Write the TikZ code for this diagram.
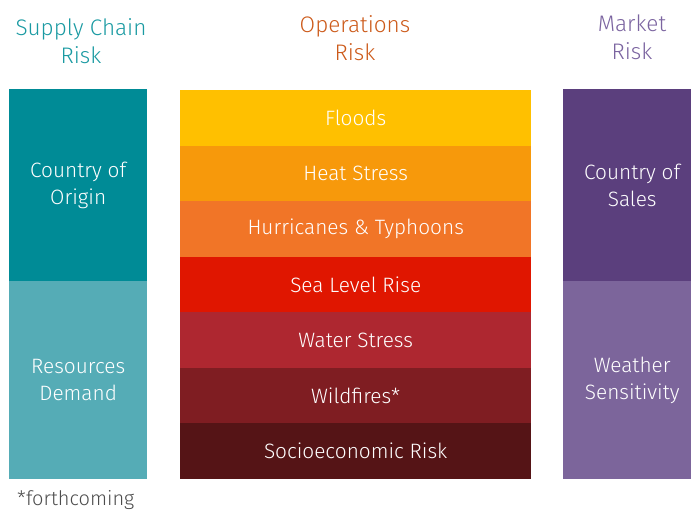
\documentclass[tikz,border=0pt]{standalone}
\usepackage{fontspec}
\setmainfont{Fira Sans}[UprightFont=*-Light]
\usetikzlibrary{positioning}

\definecolor{scdark}{HTML}{008B96}
\definecolor{sclight}{HTML}{55ACB6}
\definecolor{sctitle}{HTML}{1A9AA2}
\definecolor{optitle}{HTML}{CC5A1A}
\definecolor{mktitle}{HTML}{7B64A0}
\definecolor{mkdark}{HTML}{5B3F7D}
\definecolor{mklight}{HTML}{7C659B}
\definecolor{opA}{HTML}{FFC000}
\definecolor{opB}{HTML}{F7990B}
\definecolor{opC}{HTML}{F17527}
\definecolor{opD}{HTML}{E01600}
\definecolor{opE}{HTML}{AE2730}
\definecolor{opF}{HTML}{7F1D22}
\definecolor{opG}{HTML}{551416}

\tikzset{
  header/.style={align=center, font=\fontsize{22.5}{28}\selectfont, inner sep=0pt},
  riskbox/.style={anchor=north west, inner sep=0pt, text=white, align=center,
    font=\fontsize{20.8}{27}\selectfont},
}

\begin{document}
\begin{tikzpicture}[x=1pt,y=-1pt]
\useasboundingbox (0,0) rectangle (691,511);

% headings
\node[header, text=sctitle] (schead) at (81,41) {Supply Chain\\Risk};
\node[header, text=optitle] (ophead) at (355,38) {Operations\\Risk};
\node[header, text=mktitle] (mkhead) at (632,37) {Market\\Risk};

% supply chain column
\node[riskbox, fill=scdark, minimum width=138pt, minimum height=192pt] (origin) at (9,89) {Country of\\Origin};
\node[riskbox, fill=sclight, minimum width=138pt, minimum height=198pt] (demand) at (9,281) {Resources\\Demand};

% operations column
\foreach \lbl [count=\i from 0] in {Floods,Heat Stress,Hurricanes \& Typhoons,Sea Level Rise,Water Stress,Wildfires*,Socioeconomic Risk}{
  \pgfmathsetmacro{\ytop}{90+55.5*\i}
  \ifcase\i \def\rowcol{opA}\or \def\rowcol{opB}\or \def\rowcol{opC}\or
    \def\rowcol{opD}\or \def\rowcol{opE}\or \def\rowcol{opF}\or \def\rowcol{opG}\fi
  \node[riskbox, fill=\rowcol, minimum width=351pt, minimum height=55.5pt] (op\i) at (180,\ytop) {\lbl};
}

% market column
\node[riskbox, fill=mkdark, minimum width=138pt, minimum height=192pt] (sales) at (563,89) {Country of\\Sales};
\node[riskbox, fill=mklight, minimum width=138pt, minimum height=198pt] (weather) at (563,281) {Weather\\Sensitivity};

% note
\node[anchor=west, inner sep=0pt, text=black!70, font=\fontsize{20}{24}\selectfont] (note) at (17,500) {*forthcoming};
\end{tikzpicture}
\end{document}
